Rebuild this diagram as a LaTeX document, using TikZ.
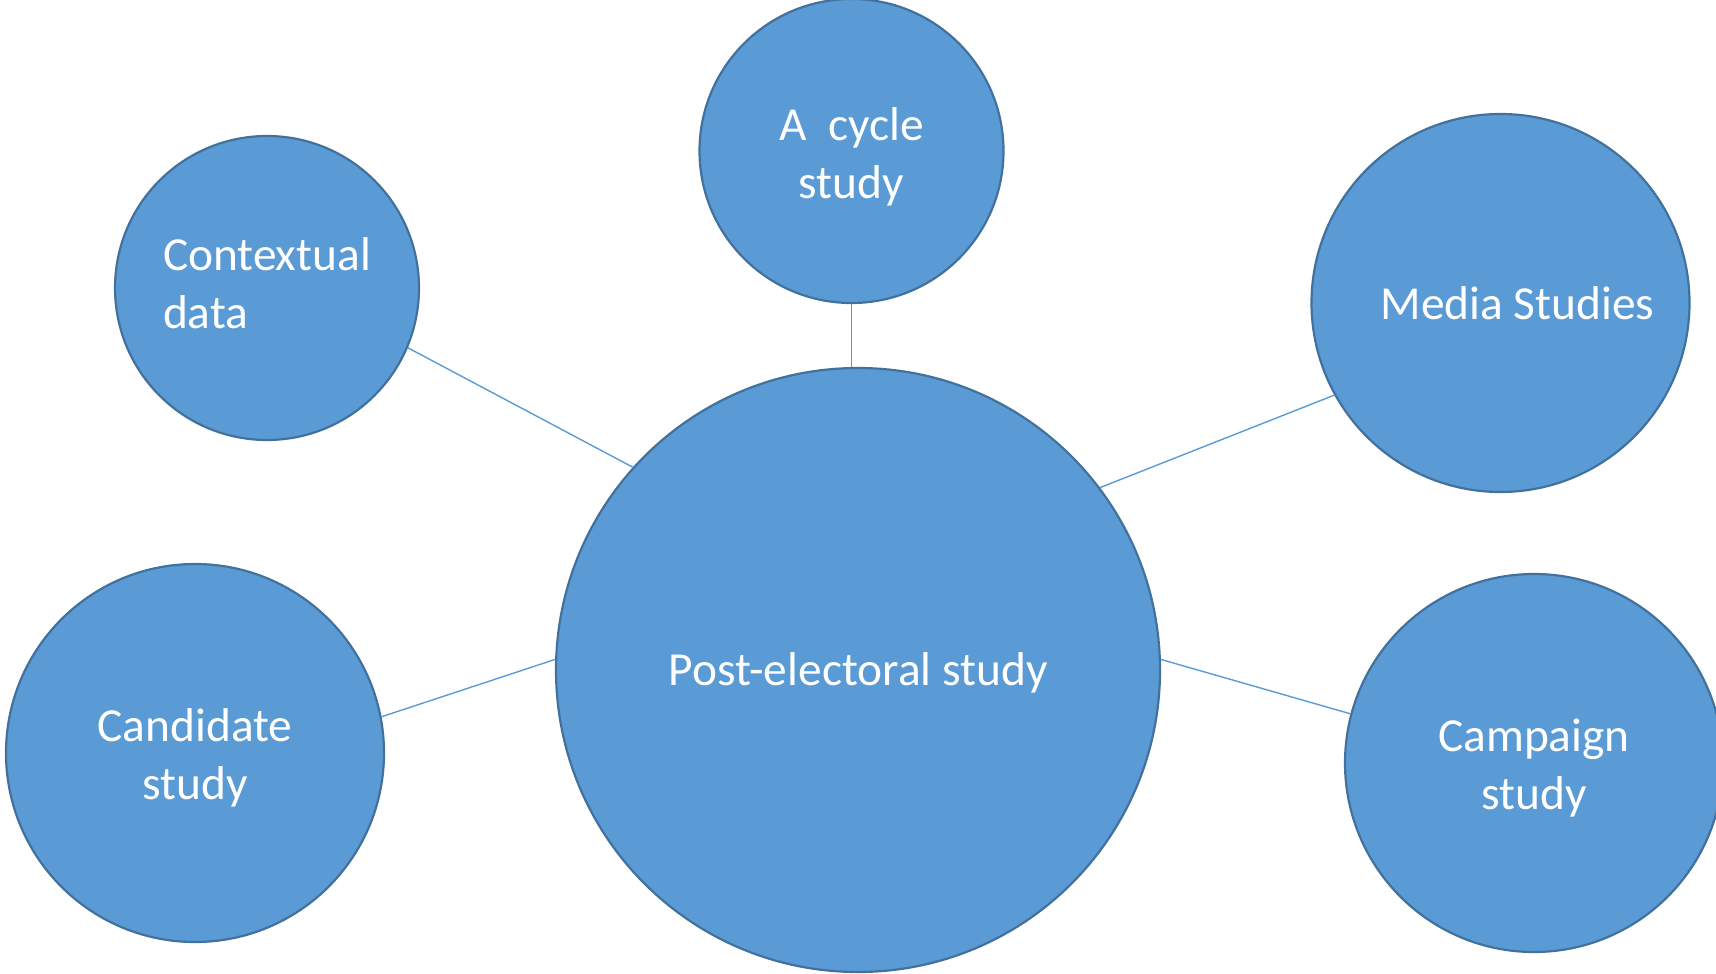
\documentclass[tikz,border=0pt]{standalone}
\usepackage{fontspec}
\setmainfont{Carlito}
\definecolor{bubblefill}{HTML}{5B9BD5}
\definecolor{bubbleedge}{HTML}{41719C}
\definecolor{linkcol}{HTML}{5B9BD5}
\begin{document}
\begin{tikzpicture}[x=0.5pt,y=-0.5pt,
  bubble/.style={circle, fill=bubblefill, draw=bubbleedge, line width=1.1pt,
    inner sep=0pt},
  btext/.style={text=white, align=center, inner sep=0pt,
    font=\fontsize{23.7pt}{29pt}\selectfont},
  link/.style={draw=linkcol, line width=0.7pt}]
\useasboundingbox (0,0) rectangle (1716,973);
\begin{scope}
\clip (0,0) rectangle (1716,973);
\node[bubble, minimum size=302pt,
  label={[btext, yshift=-1.6pt]center:Post-electoral study}] (main) at (858,670) {};
\node[bubble, minimum size=152pt,
  label={[btext, yshift=-2.7pt]center:A\ \ cycle\\study}] (cyc) at (851.5,151) {};
\node[bubble, minimum size=152pt,
  label={[btext, align=left, yshift=2.6pt]center:Contextual\\data}] (ctx) at (267,288) {};
\node[bubble, minimum size=189pt,
  label={[btext, xshift=8.5pt]center:Media Studies}] (media) at (1500.5,303) {};
\node[bubble, minimum size=189pt,
  label={[btext, yshift=-2.6pt]center:Candidate\\study}] (cand) at (195,753) {};
\node[bubble, minimum size=189pt,
  label={[btext, yshift=-2.3pt]center:Campaign\\study}] (camp) at (1534,763) {};
\path[link] (ctx.-23.7) -- (main.138.2);
\path[link] (cyc.south) -- (cyc.south |- main.north);
\path[link] (media.209.7) -- (main.37.5);
\path[link] (cand.11.2) -- (main.178.8);
\path[link] (camp.165.2) -- (main.2.5);
\end{scope}
\end{tikzpicture}
\end{document}
